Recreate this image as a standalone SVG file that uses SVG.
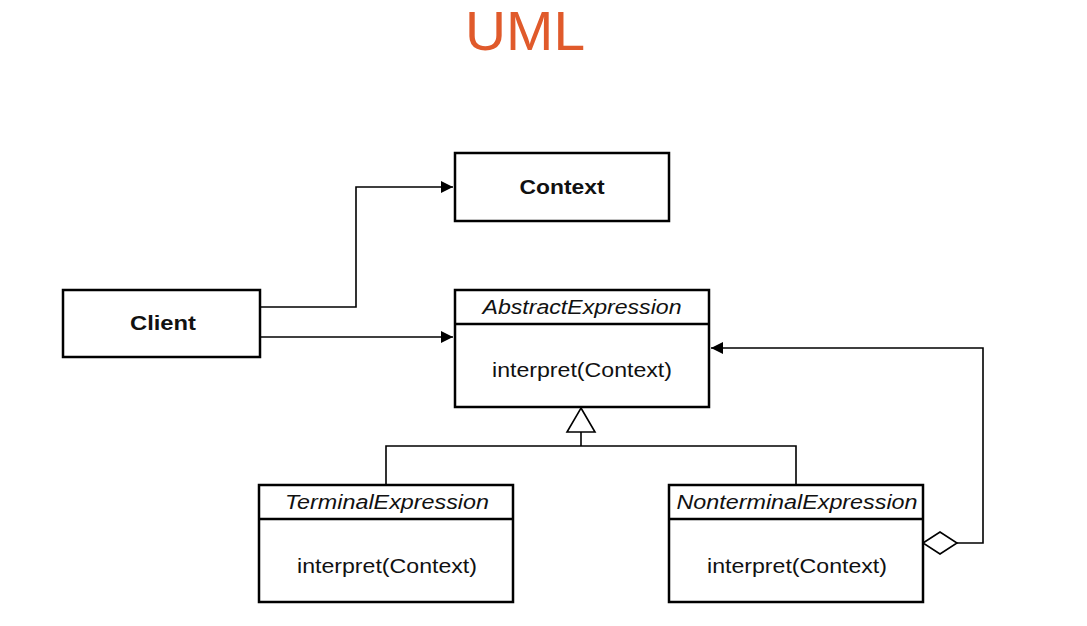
<svg xmlns="http://www.w3.org/2000/svg" width="1087" height="626" viewBox="0 0 1087 626">
  <style>
    .box { fill: #ffffff; stroke: #000000; stroke-width: 2.5; }
    .div { stroke: #000000; stroke-width: 2.5; }
    .conn { fill: none; stroke: #000000; stroke-width: 1.6; }
    .t { font-family: "Liberation Sans", Arial, sans-serif; font-size: 20px; fill: #111111; text-anchor: middle; }
    .b { font-weight: bold; }
    .i { font-style: italic; }
    .title { font-family: "Liberation Sans", Arial, sans-serif; font-size: 55px; fill: #E05A2B; text-anchor: middle; }
  </style>
  <defs>
    <marker id="arrow" viewBox="0 0 12 12" refX="12" refY="6" markerWidth="12" markerHeight="12" markerUnits="userSpaceOnUse" orient="auto">
      <path d="M0,0 L12,6 L0,12 Z" fill="#000"/>
    </marker>
  </defs>
  <rect width="1087" height="626" fill="#ffffff"/>
  <text class="title" x="525" y="50" textLength="120" lengthAdjust="spacingAndGlyphs">UML</text>

  <g id="connectors">
    <polyline class="conn" points="260,307 356,307 356,187 453,187" marker-end="url(#arrow)"/>
    <line class="conn" x1="260" y1="337" x2="453" y2="337" marker-end="url(#arrow)"/>
    <polyline class="conn" points="957,543 983,543 983,348 711,348" marker-end="url(#arrow)"/>
    <polygon points="923,543 940,532 957,543 940,554" fill="#ffffff" stroke="#000" stroke-width="1.6"/>
    <polyline class="conn" points="386,485 386,446 796,446 796,485"/>
    <line class="conn" x1="581" y1="446" x2="581" y2="432"/>
    <polygon points="581,408 595,432 567,432" fill="#ffffff" stroke="#000" stroke-width="1.6"/>
  </g>

  <g id="context">
    <rect class="box" x="455" y="153" width="214" height="68"/>
    <text class="t b" x="562" y="194" textLength="85" lengthAdjust="spacingAndGlyphs">Context</text>
  </g>

  <g id="client">
    <rect class="box" x="63" y="290" width="197" height="67"/>
    <text class="t b" x="163" y="330" textLength="66" lengthAdjust="spacingAndGlyphs">Client</text>
  </g>

  <g id="abstractexpression">
    <rect class="box" x="455" y="290" width="254" height="117"/>
    <line class="div" x1="455" y1="324" x2="709" y2="324"/>
    <text class="t i" x="582" y="314" textLength="199" lengthAdjust="spacingAndGlyphs">AbstractExpression</text>
    <text class="t" x="582" y="377" textLength="180" lengthAdjust="spacingAndGlyphs">interpret(Context)</text>
  </g>

  <g id="terminalexpression">
    <rect class="box" x="259" y="485" width="254" height="117"/>
    <line class="div" x1="259" y1="519" x2="513" y2="519"/>
    <text class="t i" x="387" y="509" textLength="204" lengthAdjust="spacingAndGlyphs">TerminalExpression</text>
    <text class="t" x="387" y="573" textLength="180" lengthAdjust="spacingAndGlyphs">interpret(Context)</text>
  </g>

  <g id="nonterminalexpression">
    <rect class="box" x="669" y="485" width="254" height="117"/>
    <line class="div" x1="669" y1="519" x2="923" y2="519"/>
    <text class="t i" x="797" y="509" textLength="241" lengthAdjust="spacingAndGlyphs">NonterminalExpression</text>
    <text class="t" x="797" y="573" textLength="180" lengthAdjust="spacingAndGlyphs">interpret(Context)</text>
  </g>
</svg>
